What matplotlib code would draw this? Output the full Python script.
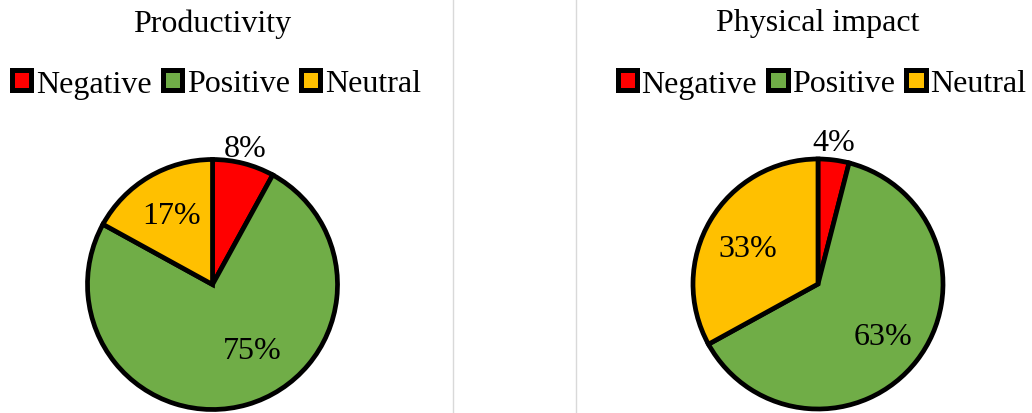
"""Two pie charts: productivity and physical impact shares."""

import matplotlib

matplotlib.use("Agg")
import matplotlib.pyplot as plt
import numpy as np
from matplotlib.lines import Line2D
from matplotlib.patches import Patch

plt.rcParams["font.family"] = ["Liberation Serif", "DejaVu Serif"]

categories = ["Negative", "Positive", "Neutral"]
titles = ["Productivity", "Physical impact"]
productivity = [8, 75, 17]
physical_impact = [4, 63, 33]

colors = ["#FF0000", "#70AD47", "#FFC000"]
# label placement per slice: radial distance and angle nudge (degrees)
label_dist = [[1.12, 0.62, 0.64], [1.14, 0.67, 0.63]]
label_shift = [[1, 15, 0], [1, -1, 4]]

W, H, DPI = 1032, 414, 100
FONT = 23


def draw_pie(fig, cx, cy, values, title, dist, shift):
    r = 125
    ax = fig.add_axes([(cx - r) / W, 1 - (cy + r) / H, 2 * r / W, 2 * r / H])
    wedges, _ = ax.pie(
        values,
        colors=colors,
        startangle=90,
        counterclock=False,
        radius=1,
        wedgeprops=dict(edgecolor="black", linewidth=3.4),
    )
    total = sum(values)
    for wedge, v, d, s in zip(wedges, values, dist, shift):
        mid = np.deg2rad((wedge.theta1 + wedge.theta2) / 2 + s)
        ax.text(
            d * np.cos(mid),
            d * np.sin(mid),
            f"{round(100 * v / total)}%",
            ha="center",
            va="center",
            fontsize=FONT,
        )
    ax.set_xlim(-1, 1)
    ax.set_ylim(-1, 1)
    ax.set_aspect("equal")
    ax.axis("off")

    fig.text(cx / W, 1 - 24 / H, title, ha="center", va="center", fontsize=FONT)
    handles = [
        Patch(facecolor=c, edgecolor="black", linewidth=3.6, label=lab)
        for c, lab in zip(colors, categories)
    ]
    fig.legend(
        handles=handles,
        loc="center",
        bbox_to_anchor=((cx + 4) / W, 1 - 85 / H),
        ncol=3,
        frameon=False,
        fontsize=FONT,
        handlelength=0.6,
        handleheight=0.6,
        handletextpad=0.15,
        columnspacing=0.35,
        borderpad=0,
        borderaxespad=0,
    )


fig = plt.figure(figsize=(W / DPI, H / DPI), dpi=DPI)

for x in (453, 576):
    fig.add_artist(
        Line2D([x / W, x / W], [0.0, 1.0], color="#d9d9d9", linewidth=1,
               transform=fig.transFigure)
    )

draw_pie(fig, 212.5, 285.5, productivity, titles[0], label_dist[0], label_shift[0])
draw_pie(fig, 818, 285, physical_impact, titles[1], label_dist[1], label_shift[1])

fig.savefig("out.png", dpi=DPI)
